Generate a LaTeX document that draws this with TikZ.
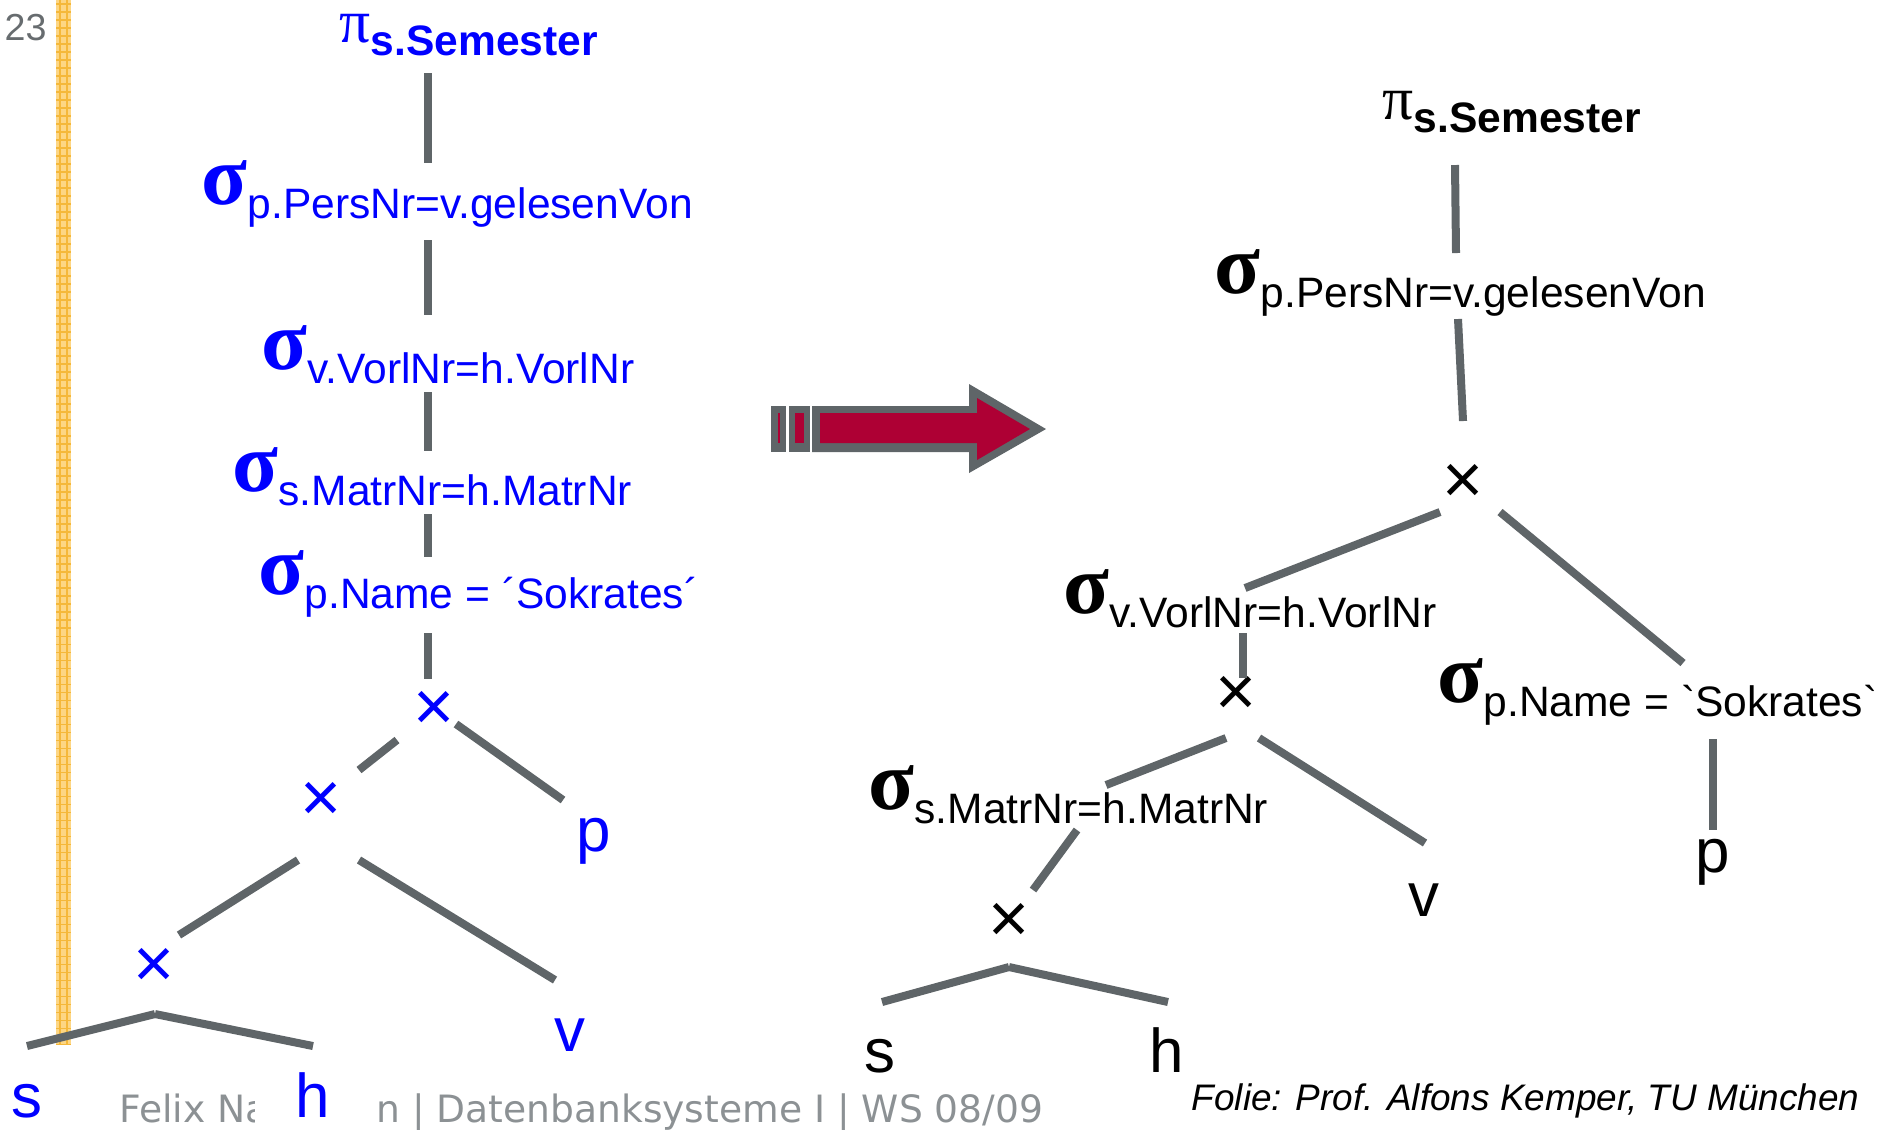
\documentclass[tikz,border=0pt]{standalone}
\usepackage{fontspec}
\setmainfont{Liberation Sans}[Ligatures=TeXOff]
\newfontfamily\greekfont{Liberation Serif}
\newfontfamily\footfont{DejaVu Sans}
\usepackage{xcolor}
\definecolor{stickgrey}{RGB}{95,101,104}
\definecolor{treeblue}{RGB}{0,0,255}
\definecolor{arrowred}{RGB}{174,0,52}
\definecolor{footgrey}{RGB}{140,145,148}
\definecolor{numgrey}{RGB}{103,108,111}
\definecolor{barfill}{RGB}{253,214,132}
\definecolor{barline}{RGB}{245,184,58}

% selection and projection labels
\newcommand{\sel}[1]{\raisebox{0.14cm}{\fontsize{24pt}{24pt}\greekfont\bfseries σ}{\fontsize{12.1pt}{13pt}\selectfont #1}}
\newcommand{\proj}[1]{\raisebox{0.13cm}{\fontsize{17.5pt}{18pt}\greekfont π}{\fontsize{12.1pt}{13pt}\selectfont\bfseries #1}}

\tikzset{
    stick/.style={draw=stickgrey, line width=0.08cm},
    lbl/.style={anchor=base west, inner sep=0pt},
    crs/.style={anchor=center, inner sep=0pt, font=\fontsize{20pt}{20pt}\selectfont},
    leaf/.style={anchor=base, inner sep=0pt, font=\fontsize{17.6pt}{18pt}\selectfont}
}

\begin{document}
\begin{tikzpicture}[x=0.01cm, y=-0.01cm]
        \useasboundingbox (0,0) rectangle (1889,1129);
        % side bar with grid
        \fill[barfill] (56,0) rectangle (71,1044);
        \foreach \y in {4, 12, ..., 1044}{
            \draw[barline, line width=0.3pt] (56,\y) -- (71,\y);
        }
        \draw[barline, line width=0.3pt] (60,0) -- (60,1044);
        \draw[barline, line width=0.3pt] (67,0) -- (67,1044);
        % page number and footer
        \node[anchor=base west, inner sep=0pt, text=numgrey, font=\fontsize{10.7pt}{12pt}\selectfont] (pagenr) at (4,40) {23};
        \node[anchor=base west, inner sep=0pt, text=footgrey, font=\fontsize{10.7pt}{12pt}\footfont] (footer) at (119,1122) {Felix Naumann | Datenbanksysteme I | WS 08/09};
        \node[anchor=base west, inner sep=0pt, font=\fontsize{10.5pt}{12pt}\selectfont\itshape] (credit) at (1191,1110) {Folie: Prof. Alfons Kemper, TU München};

        % left tree (blue)
        \begin{scope}[text=treeblue]
            \node[lbl] (lpi) at (339,55) {\proj{s.Semester}};
            \node[lbl] (lpers) at (201,218) {\sel{p.PersNr=v.gelesenVon}};
            \node[lbl] (lvorl) at (261,383) {\sel{v.VorlNr=h.VorlNr}};
            \node[lbl] (lmatr) at (232,505) {\sel{s.MatrNr=h.MatrNr}};
            \node[lbl] (lname) at (258,608) {\sel{p.Name = ´Sokrates´}};
            \node[crs] (lx1) at (434,711) {×};
            \node[crs] (lx2) at (321,802) {×};
            \node[crs] (lx3) at (154,968) {×};
            \node[leaf] (lp) at (594,851) {p};
            \node[leaf] (lv) at (570,1051) {v};
            \node[leaf] (ls) at (27,1117) {s};
            \node[leaf, fill=white, minimum width=1.21cm, minimum height=0.7cm] (lh) at (316,1117) {h\kern0.07cm};
        \end{scope}
        \draw[stick] ([shift={(89,18)}]lpi.base west) -- ([shift={(227,-55)}]lpers.base west);
        \draw[stick] ([shift={(227,22)}]lpers.base west) -- ([shift={(167,-68)}]lvorl.base west);
        \draw[stick] ([shift={(167,9)}]lvorl.base west) -- ([shift={(196,-54)}]lmatr.base west);
        \draw[stick] ([shift={(196,9)}]lmatr.base west) -- ([shift={(170,-51)}]lname.base west);
        \draw[stick] ([shift={(170,25)}]lname.base west) -- ([shift={(-6,-32)}]lx1.center);
        \draw[stick] ([shift={(-37,29)}]lx1.center) -- ([shift={(38,-32)}]lx2.center);
        \draw[stick] ([shift={(22,13)}]lx1.center) -- ([shift={(-31,-51)}]lp.base);
        \draw[stick] ([shift={(-23,58)}]lx2.center) -- ([shift={(25,-33)}]lx3.center);
        \draw[stick] ([shift={(38,58)}]lx2.center) -- ([shift={(-15,-71)}]lv.base);
        \draw[stick] ([shift={(1,46)}]lx3.center) -- ([shift={(0,-71)}]ls.base);
        \draw[stick] ([shift={(1,46)}]lx3.center) -- ([shift={(-3,-71)}]lh.base);

        % striped arrow
        \fill[stickgrey] (812,406) -- (969,406) -- (969,384) -- (1046,429) -- (969,473) -- (969,452) -- (812,452) -- cycle;
        \fill[arrowred] (820,413) -- (977,413) -- (977,398) -- (1030,429) -- (977,460) -- (977,443) -- (820,443) -- cycle;
        \fill[stickgrey] (771,406) rectangle (786,452);
        \draw[arrowred, line width=0.3pt] (779,413) -- (779,443);
        \fill[stickgrey] (789,406) rectangle (810,452);
        \fill[arrowred] (795,413) rectangle (804,443);

        % right tree (black)
        \node[lbl] (rpi) at (1382,132) {\proj{s.Semester}};
        \node[lbl] (rpers) at (1214,307) {\sel{p.PersNr=v.gelesenVon}};
        \node[crs] (rx1) at (1463,484) {×};
        \node[lbl] (rvorl) at (1063,627) {\sel{v.VorlNr=h.VorlNr}};
        \node[lbl] (rname) at (1437,716) {\sel{p.Name = `Sokrates`}};
        \node[crs] (rx2) at (1236,696) {×};
        \node[lbl] (rmatr) at (868,823) {\sel{s.MatrNr=h.MatrNr}};
        \node[crs] (rx3) at (1009,923) {×};
        \node[leaf] (rp) at (1713,872) {p};
        \node[leaf] (rv) at (1424,916) {v};
        \node[leaf] (rs) at (880,1072) {s};
        \node[leaf] (rh) at (1167,1072) {h};
        \draw[stick] ([shift={(73,33)}]rpi.base west) -- ([shift={(242,-54)}]rpers.base west);
        \draw[stick] ([shift={(244,12)}]rpers.base west) -- ([shift={(0,-63)}]rx1.center);
        \draw[stick] ([shift={(-23,28)}]rx1.center) -- ([shift={(182,-39)}]rvorl.base west);
        \draw[stick] ([shift={(37,28)}]rx1.center) -- ([shift={(246,-53)}]rname.base west);
        \draw[stick] ([shift={(180,6)}]rvorl.base west) -- ([shift={(7,-18)}]rx2.center);
        \draw[stick] ([shift={(-10,42)}]rx2.center) -- ([shift={(238,-38)}]rmatr.base west);
        \draw[stick] ([shift={(23,42)}]rx2.center) -- ([shift={(1,-73)}]rv.base);
        \draw[stick] ([shift={(276,23)}]rname.base west) -- ([shift={(0,-42)}]rp.base);
        \draw[stick] ([shift={(209,7)}]rmatr.base west) -- ([shift={(24,-33)}]rx3.center);
        \draw[stick] ([shift={(0,44)}]rx3.center) -- ([shift={(2,-70)}]rs.base);
        \draw[stick] ([shift={(0,44)}]rx3.center) -- ([shift={(1,-70)}]rh.base);
    \end{tikzpicture}
\end{document}
